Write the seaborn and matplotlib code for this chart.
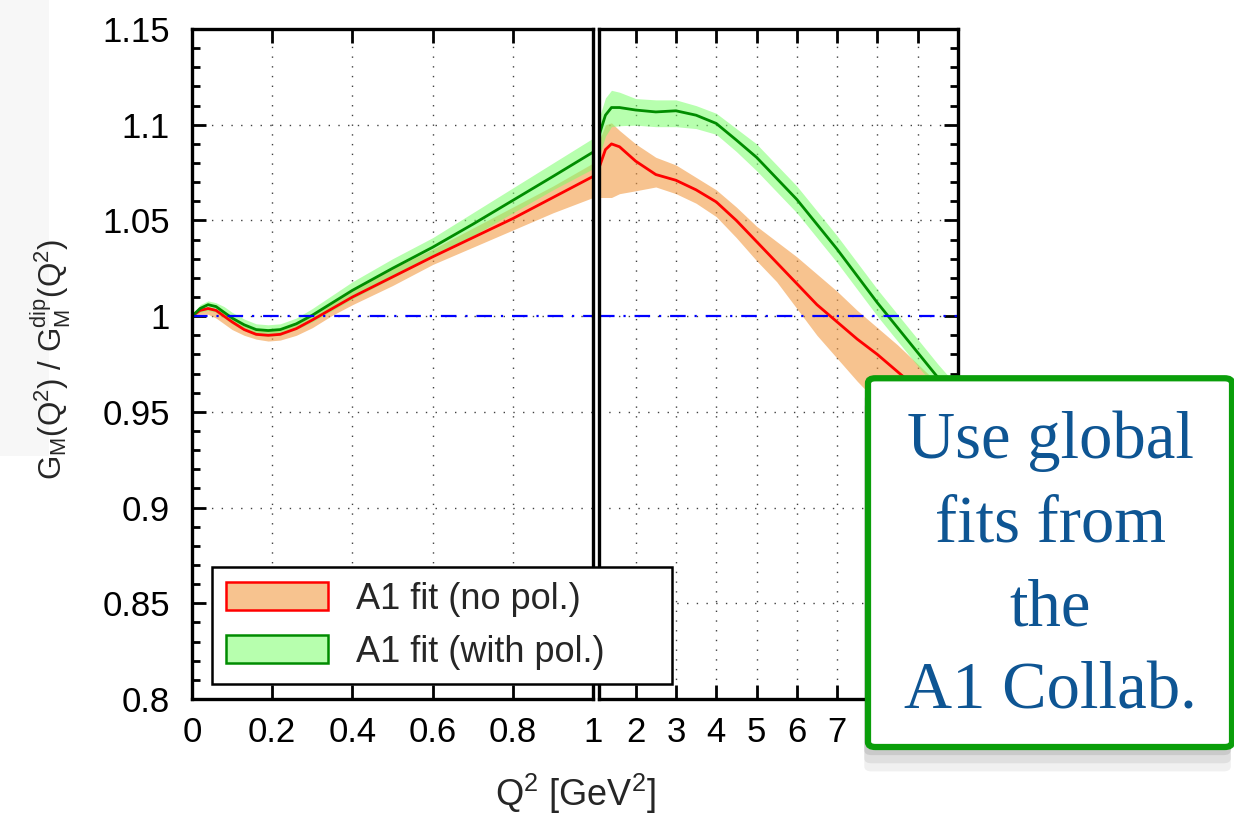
import matplotlib
matplotlib.use("Agg")
import matplotlib.pyplot as plt
import seaborn as sns
from matplotlib.patches import Patch, FancyBboxPatch, Rectangle
from matplotlib.ticker import MultipleLocator, NullLocator

# ---- data ----
q2_low = [0, 0.02, 0.04, 0.06, 0.08, 0.1, 0.13, 0.16, 0.19, 0.22, 0.26, 0.3,
          0.35, 0.4, 0.5, 0.6, 0.7, 0.8, 0.9, 1.0]
nopol_low = [1.000, 1.003, 1.004, 1.003, 1.000, 0.997, 0.993, 0.9905, 0.990, 0.9905,
             0.9935, 0.998, 1.004, 1.010, 1.0205, 1.031, 1.041, 1.051, 1.062, 1.073]
nopol_low_lo = [1.000, 1.001, 1.001, 0.999, 0.996, 0.993, 0.990, 0.988, 0.987, 0.9875,
                0.990, 0.994, 1.0005, 1.006, 1.016, 1.027, 1.036, 1.045, 1.054, 1.062]
nopol_low_hi = [1.000, 1.004, 1.005, 1.004, 1.002, 0.999, 0.996, 0.993, 0.993, 0.9935,
                0.997, 1.001, 1.0075, 1.014, 1.025, 1.035, 1.046, 1.057, 1.068, 1.080]
pol_low = [1.000, 1.004, 1.006, 1.005, 1.002, 0.999, 0.9955, 0.993, 0.9925, 0.993,
           0.996, 1.0005, 1.007, 1.0135, 1.025, 1.036, 1.048, 1.0605, 1.073, 1.0857]
pol_low_lo = [1.000, 1.002, 1.003, 1.002, 0.999, 0.996, 0.9925, 0.990, 0.9895, 0.990,
              0.993, 0.997, 1.003, 1.009, 1.020, 1.031, 1.042, 1.054, 1.066, 1.077]
pol_low_hi = [1.000, 1.006, 1.008, 1.007, 1.005, 1.002, 0.9985, 0.996, 0.9955, 0.996,
              0.999, 1.004, 1.011, 1.018, 1.030, 1.041, 1.054, 1.067, 1.080, 1.093]

q2_high = [1.0, 1.1, 1.25, 1.4, 1.6, 2.0, 2.5, 3.0, 3.5, 4.0, 4.5, 5.0, 5.5, 6.0,
           6.5, 7.0, 7.5, 8.0, 8.5, 9.0, 9.5, 10.0]
nopol_high = [1.073, 1.078, 1.087, 1.090, 1.0885, 1.081, 1.074, 1.071, 1.066, 1.0597,
              1.050, 1.039, 1.028, 1.017, 1.006, 0.997, 0.988, 0.980, 0.971, 0.962,
              0.952, 0.943]
nopol_high_lo = [1.062, 1.062, 1.062, 1.062, 1.064, 1.0655, 1.0675, 1.064, 1.059, 1.052,
                 1.041, 1.029, 1.018, 1.004, 0.990, 0.978, 0.966, 0.955, 0.945, 0.935,
                 0.925, 0.915]
nopol_high_hi = [1.083, 1.092, 1.100, 1.101, 1.097, 1.090, 1.083, 1.079, 1.0725, 1.066,
                 1.057, 1.047, 1.039, 1.031, 1.022, 1.013, 1.003, 0.994, 0.985, 0.975,
                 0.965, 0.955]
pol_high = [1.0857, 1.095, 1.105, 1.109, 1.109, 1.1077, 1.1067, 1.1073, 1.105, 1.1007,
            1.092, 1.083, 1.072, 1.061, 1.048, 1.035, 1.021, 1.007, 0.994, 0.981,
            0.968, 0.956]
pol_high_lo = [1.077, 1.084, 1.094, 1.099, 1.0995, 1.0998, 1.099, 1.099, 1.098, 1.095,
               1.086, 1.076, 1.065, 1.054, 1.041, 1.028, 1.014, 1.000, 0.987, 0.974,
               0.961, 0.948]
pol_high_hi = [1.093, 1.104, 1.114, 1.118, 1.117, 1.1137, 1.113, 1.113, 1.110, 1.106,
               1.098, 1.090, 1.079, 1.068, 1.055, 1.042, 1.028, 1.014, 1.001, 0.988,
               0.975, 0.963]

x_ticks_low = [0, 0.2, 0.4, 0.6, 0.8, 1.0]
x_labels_low = ["0", "0.2", "0.4", "0.6", "0.8", "1"]
x_ticks_high = [2, 3, 4, 5, 6, 7, 8, 9, 10]
x_labels_high = ["2", "3", "4", "5", "6", "7", "8", "9", "10"]
y_ticks = [0.8, 0.85, 0.9, 0.95, 1.0, 1.05, 1.1, 1.15]
y_labels = ["0.8", "0.85", "0.9", "0.95", "1", "1.05", "1.1", "1.15"]
legend_labels = ["A1 fit (no pol.)", "A1 fit (with pol.)"]
note_text = "Use global\nfits from\nthe\nA1 Collab."

ORANGE_FILL = "#F29B45"
GREEN_FILL = "#7CFF6C"
RED = "#FF0000"
GREEN = "#008C00"

sns.set_theme(style="ticks")
plt.rcParams["font.family"] = ["Liberation Sans", "DejaVu Sans"]
plt.rcParams["mathtext.default"] = "regular"

fig = plt.figure(figsize=(12.34, 8.14), dpi=100)
fig.patch.set_facecolor("white")
# faint slide shadow at the top-left edge
fig.add_artist(Rectangle((0, 0.44), 0.04, 0.56, transform=fig.transFigure,
                         fc="#f7f7f7", ec="none", zorder=-1))

ax_l = fig.add_axes([0.1556, 0.1413, 0.325, 0.823])
ax_r = fig.add_axes([0.4854, 0.1413, 0.2909, 0.823])

panels = [
    (ax_l, q2_low, nopol_low, nopol_low_lo, nopol_low_hi, pol_low, pol_low_lo, pol_low_hi),
    (ax_r, q2_high, nopol_high, nopol_high_lo, nopol_high_hi, pol_high, pol_high_lo, pol_high_hi),
]
for ax, x, r, rlo, rhi, g, glo, ghi in panels:
    ax.set_facecolor("white")
    ax.fill_between(x, rlo, rhi, color=ORANGE_FILL, alpha=0.6, lw=0, zorder=2)
    ax.fill_between(x, glo, ghi, color=GREEN_FILL, alpha=0.55, lw=0, zorder=3)
    sns.lineplot(x=x, y=r, ax=ax, color=RED, lw=2.0, zorder=4)
    sns.lineplot(x=x, y=g, ax=ax, color=GREEN, lw=2.0, zorder=5)
    ax.axhline(1.0, color="#0000FF", lw=1.6, ls=(0, (7, 4, 1, 4)), zorder=6)
    ax.set_ylim(0.8, 1.15)
    ax.set_yticks(y_ticks)
    ax.yaxis.set_minor_locator(MultipleLocator(0.01))
    ax.xaxis.set_minor_locator(NullLocator())
    ax.grid(True, which="major", color="0.25", ls=(0, (1, 6)), lw=1.0, zorder=1)
    ax.set_xlabel("")
    ax.set_ylabel("")
    for sp in ax.spines.values():
        sp.set_visible(True)
        sp.set_linewidth(2.4)
        sp.set_color("black")
        sp.set_zorder(7)
    ax.tick_params(which="both", direction="in", width=2, color="black",
                   labelsize=25, labelcolor="black")
    ax.tick_params(which="major", length=10)
    ax.tick_params(which="minor", length=5.5)
    ax.tick_params(axis="x", top=True, bottom=True, pad=12)

ax_l.set_xlim(0, 1)
ax_l.set_xticks(x_ticks_low)
ax_l.set_xticklabels(x_labels_low)
ax_l.set_yticklabels(y_labels)
ax_l.tick_params(axis="y", which="both", left=True, right=False, pad=16)

ax_r.set_xlim(1.09, 10)
ax_r.set_xticks(x_ticks_high)
ax_r.set_xticklabels(x_labels_high)
ax_r.tick_params(axis="y", which="both", left=False, right=True, labelleft=False)

fig.text(0.466, 0.025, r"Q$^2$ [GeV$^2$]", ha="center", va="center", fontsize=26)
fig.text(0.0413, 0.558, r"G$_M$(Q$^2$) / G$_M^{dip}$(Q$^2$)", ha="center", va="center",
         rotation=90, fontsize=22.5)

handles = [
    Patch(facecolor=ORANGE_FILL, alpha=0.6, edgecolor=RED, lw=1.8),
    Patch(facecolor=GREEN_FILL, alpha=0.55, edgecolor=GREEN, lw=1.8),
]
leg = fig.legend(handles, legend_labels, loc="lower left",
                 bbox_to_anchor=(0.1718, 0.1597, 0.3727, 0.139), mode="expand",
                 borderaxespad=0, fontsize=26, frameon=True, fancybox=False,
                 edgecolor="black", framealpha=1, handlelength=2.8, handleheight=0.8,
                 labelspacing=0.5, borderpad=0.4, handletextpad=0.8)
leg.get_frame().set_linewidth(1.8)
for h in leg.legend_handles:
    h.set_alpha(None)
leg.legend_handles[0].set_facecolor("#F7C38F")
leg.legend_handles[1].set_facecolor("#B7FFAE")

# note box with a soft shadow
bx0, by0, bw, bh = 0.7034, 0.0823, 0.295, 0.453
for i, a in enumerate([0.06, 0.07, 0.09]):
    off = 0.005 * (3 - i)
    fig.add_artist(FancyBboxPatch((bx0 - 0.003, by0 - off * 2), bw + 0.002, bh,
                                  boxstyle="round,pad=0,rounding_size=0.006",
                                  transform=fig.transFigure, fc="black", ec="none",
                                  alpha=a, zorder=9))
fig.add_artist(FancyBboxPatch((bx0, by0), bw, bh, boxstyle="round,pad=0,rounding_size=0.006",
                              transform=fig.transFigure, fc="white", ec="#0A9E0A", lw=4.5,
                              zorder=10))
fig.text(bx0 + bw / 2, by0 + bh / 2 - 0.005, note_text, ha="center", va="center",
         multialignment="center", fontsize=48, family=["Liberation Serif", "DejaVu Serif"],
         color="#0E5593", linespacing=1.48, zorder=11)

fig.savefig("out.png", dpi=100, facecolor="white")
